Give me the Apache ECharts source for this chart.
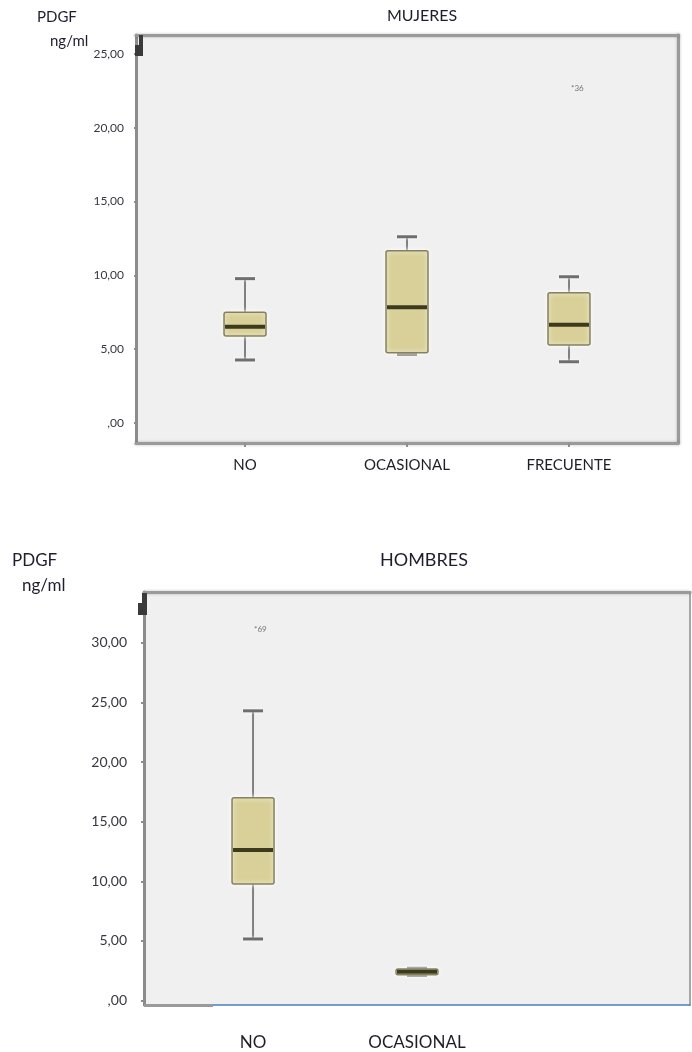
<!DOCTYPE html>
<html>
<head>
<meta charset="utf-8">
<script src="https://cdn.jsdelivr.net/npm/echarts@6/dist/echarts.min.js"></script>
<style>
  html, body { margin: 0; padding: 0; background: #ffffff; }
  #chart { width: 692px; height: 1052px; }
</style>
</head>
<body>
<div id="chart"></div>
<script>
// ---------- DATA ----------
// MUJERES (women)
const mujeresCategories = ['NO', 'OCASIONAL', 'FRECUENTE'];
const mujeresMin    = [4.27, 4.65, 4.15];
const mujeresQ1     = [5.89, 4.76, 5.28];
const mujeresMedian = [6.52, 7.84, 6.66];
const mujeresQ3     = [7.50, 11.67, 8.83];
const mujeresMax    = [9.78, 12.62, 9.91];
const mujeresOutlierCat   = [2];
const mujeresOutlierValue = [22.7];
const mujeresOutlierLabel = ['*36'];
const mujeresTickValues = [0, 5, 10, 15, 20, 25];
const mujeresTickLabels = [',00', '5,00', '10,00', '15,00', '20,00', '25,00'];

// HOMBRES (men) – third slot (FRECUENTE) is empty in the source
const hombresCategories = ['NO', 'OCASIONAL', ''];
const hombresMin    = [5.16, 2.10];
const hombresQ1     = [9.77, 2.15];
const hombresMedian = [12.63, 2.40];
const hombresQ3     = [17.00, 2.65];
const hombresMax    = [24.30, 2.70];
const hombresOutlierCat   = [0];
const hombresOutlierValue = [31.1];
const hombresOutlierLabel = ['*69'];
const hombresTickValues = [0, 5, 10, 15, 20, 25, 30];
const hombresTickLabels = [',00', '5,00', '10,00', '15,00', '20,00', '25,00', '30,00'];

// ---------- BUILD ----------
const FONT = 'Lato, "Open Sans", sans-serif';

function boxData(mins, q1s, meds, q3s, maxs) {
  return mins.map((v, i) => [i, mins[i], q1s[i], meds[i], q3s[i], maxs[i]]);
}
function outlierData(cats, vals, labels) {
  return cats.map((c, i) => ({ value: [c, vals[i]], label: { formatter: labels[i] } }));
}

function renderBox(params, api) {
  const x = api.value(0);
  const pMin = api.coord([x, api.value(1)]);
  const pQ1  = api.coord([x, api.value(2)]);
  const pMed = api.coord([x, api.value(3)]);
  const pQ3  = api.coord([x, api.value(4)]);
  const pMax = api.coord([x, api.value(5)]);
  const cx = pMed[0];
  const hb = 21, hc = 10;
  const whisker = { stroke: '#808080', lineWidth: 2 };
  const cap = { stroke: '#6e6e6e', lineWidth: 3, shadowColor: 'rgba(255,255,255,0.9)', shadowBlur: 3 };
  return {
    type: 'group',
    children: [
      { type: 'line', shape: { x1: cx, y1: pMax[1], x2: cx, y2: pQ3[1] }, style: whisker },
      { type: 'line', shape: { x1: cx, y1: pQ1[1], x2: cx, y2: pMin[1] }, style: whisker },
      { type: 'line', shape: { x1: cx - hc, y1: pMax[1], x2: cx + hc, y2: pMax[1] }, style: cap },
      { type: 'line', shape: { x1: cx - hc, y1: pMin[1], x2: cx + hc, y2: pMin[1] }, style: cap },
      { type: 'rect', shape: { x: cx - hb, y: pQ3[1], width: hb * 2, height: pQ1[1] - pQ3[1], r: 2 },
        style: { fill: '#d8d098', stroke: '#858160', lineWidth: 1.5,
                 shadowColor: 'rgba(255,255,255,0.95)', shadowBlur: 5 } },
      { type: 'line', shape: { x1: cx - hb + 1, y1: pMed[1], x2: cx + hb - 1, y2: pMed[1] },
        style: { stroke: '#3d3a1e', lineWidth: 4 } }
    ]
  };
}

// axis ranges
const mX = { min: -0.673, max: 2.673 };
const mY = { min: -1.355, max: 26.29 };
const hX = { min: -0.665, max: 2.665 };
const hY = { min: -0.38, max: 34.27 };

const frameLine = { color: '#9a9a9a', width: 3, shadowColor: 'rgba(0,0,0,0.25)', shadowBlur: 3 };

function frameAxis(gridIndex, position, range) {
  return {
    type: 'value', gridIndex, position, min: range.min, max: range.max,
    axisLine: { show: true, onZero: false, lineStyle: frameLine },
    axisTick: { show: false }, axisLabel: { show: false }, splitLine: { show: false }
  };
}

const option = {
  animation: false,
  backgroundColor: '#ffffff',
  title: [
    { text: 'MUJERES', left: 387, top: 8, padding: 0, textStyle: { fontFamily: FONT, fontSize: 16, fontWeight: 'normal', color: '#1e1e2e' } },
    { text: 'PDGF', left: 37, top: 10, padding: 0, textStyle: { fontFamily: FONT, fontSize: 15, fontWeight: 'normal', color: '#1e1e2e' } },
    { text: 'ng/ml', left: 50, top: 34, padding: 0, textStyle: { fontFamily: FONT, fontSize: 15, fontWeight: 'normal', color: '#1e1e2e' } },
    { text: 'HOMBRES', left: 380, top: 551, padding: 0, textStyle: { fontFamily: FONT, fontSize: 18, fontWeight: 'normal', color: '#1e1e2e' } },
    { text: 'PDGF', left: 12, top: 552, padding: 0, textStyle: { fontFamily: FONT, fontSize: 17, fontWeight: 'normal', color: '#1e1e2e' } },
    { text: 'ng/ml', left: 22, top: 577, padding: 0, textStyle: { fontFamily: FONT, fontSize: 17, fontWeight: 'normal', color: '#1e1e2e' } }
  ],
  grid: [
    { left: 136, right: 14, top: 35, bottom: 609, show: true, backgroundColor: '#f0f0f0', borderWidth: 0 },
    { left: 144, right: 2, top: 592, bottom: 47, show: true, backgroundColor: '#f0f0f0', borderWidth: 0 }
  ],
  xAxis: [
    {
      type: 'value', gridIndex: 0, position: 'bottom', min: mX.min, max: mX.max,
      axisLine: { show: true, onZero: false, lineStyle: frameLine },
      axisTick: { show: true, customValues: [0, 1, 2], length: 4, lineStyle: { color: '#909090', width: 2 } },
      axisLabel: { show: true, customValues: [0, 1, 2], margin: 15,
        formatter: v => mujeresCategories[Math.round(v)] || '',
        fontFamily: FONT, fontSize: 15, color: '#1e1e28' },
      splitLine: { show: false }
    },
    frameAxis(0, 'top', mX),
    {
      type: 'value', gridIndex: 1, position: 'bottom', min: hX.min, max: hX.max,
      axisLine: { show: true, onZero: false, lineStyle: { color: '#4a7ebb', width: 1.5 } },
      axisTick: { show: false },
      axisLabel: { show: true, customValues: [0, 1], margin: 29,
        formatter: v => hombresCategories[Math.round(v)] || '',
        fontFamily: FONT, fontSize: 17, color: '#1e1e28' },
      splitLine: { show: false }
    },
    frameAxis(1, 'top', hX)
  ],
  yAxis: [
    {
      type: 'value', gridIndex: 0, position: 'left', min: mY.min, max: mY.max,
      axisLine: { show: true, onZero: false, lineStyle: { color: '#8c8c8c', width: 3 } },
      axisTick: { show: true, customValues: mujeresTickValues, length: 2, lineStyle: { color: '#8c8c8c', width: 2 } },
      axisLabel: { show: true, customValues: mujeresTickValues, margin: 12,
        formatter: v => mujeresTickLabels[mujeresTickValues.indexOf(v)],
        fontFamily: FONT, fontSize: 12, color: '#3a3640' },
      splitLine: { show: false }
    },
    frameAxis(0, 'right', mY),
    {
      type: 'value', gridIndex: 1, position: 'left', min: hY.min, max: hY.max,
      axisLine: { show: true, onZero: false, lineStyle: { color: '#8c8c8c', width: 3 } },
      axisTick: { show: true, customValues: hombresTickValues, length: 3, lineStyle: { color: '#8c8c8c', width: 2 } },
      axisLabel: { show: true, customValues: hombresTickValues, margin: 17,
        formatter: v => hombresTickLabels[hombresTickValues.indexOf(v)],
        fontFamily: FONT, fontSize: 14, color: '#3a3640' },
      splitLine: { show: false }
    },
    Object.assign(frameAxis(1, 'right', hY), { axisLine: { show: true, onZero: false, lineStyle: { color: '#a8a8a8', width: 2 } } })
  ],
  graphic: [
    { type: 'rect', z: 100, shape: { x: 139, y: 35, width: 4, height: 21 }, style: { fill: '#3a3a3a' } },
    { type: 'rect', z: 100, shape: { x: 135, y: 45, width: 5, height: 11 }, style: { fill: '#3a3a3a' } },
    { type: 'rect', z: 100, shape: { x: 142, y: 593, width: 5, height: 22 }, style: { fill: '#3a3a3a' } },
    { type: 'rect', z: 100, shape: { x: 138, y: 603, width: 5, height: 12 }, style: { fill: '#3a3a3a' } }
  ],
  series: [
    {
      name: 'MUJERES', type: 'custom', xAxisIndex: 0, yAxisIndex: 0,
      renderItem: renderBox,
      encode: { x: 0, y: [1, 2, 3, 4, 5] },
      data: boxData(mujeresMin, mujeresQ1, mujeresMedian, mujeresQ3, mujeresMax)
    },
    {
      name: 'MUJERES atípicos', type: 'scatter', xAxisIndex: 0, yAxisIndex: 0,
      symbolSize: 0,
      label: { show: true, position: 'right', distance: 2, fontFamily: FONT, fontSize: 8, color: '#555' },
      data: outlierData(mujeresOutlierCat, mujeresOutlierValue, mujeresOutlierLabel)
    },
    {
      name: 'HOMBRES', type: 'custom', xAxisIndex: 2, yAxisIndex: 2,
      renderItem: renderBox,
      encode: { x: 0, y: [1, 2, 3, 4, 5] },
      data: boxData(hombresMin, hombresQ1, hombresMedian, hombresQ3, hombresMax),
      markLine: {
        silent: true, symbol: 'none', label: { show: false },
        lineStyle: { color: '#9a9a9a', width: 3, type: 'solid' },
        data: [[{ coord: [hX.min, hY.min] }, { coord: [-0.244, hY.min] }]]
      }
    },
    {
      name: 'HOMBRES atípicos', type: 'scatter', xAxisIndex: 2, yAxisIndex: 2,
      symbolSize: 0,
      label: { show: true, position: 'right', distance: 1, fontFamily: FONT, fontSize: 8, color: '#555' },
      data: outlierData(hombresOutlierCat, hombresOutlierValue, hombresOutlierLabel)
    }
  ]
};

const chart = echarts.init(document.getElementById('chart'), null, { renderer: 'canvas' });
chart.setOption(option);
</script>
</body>
</html>
